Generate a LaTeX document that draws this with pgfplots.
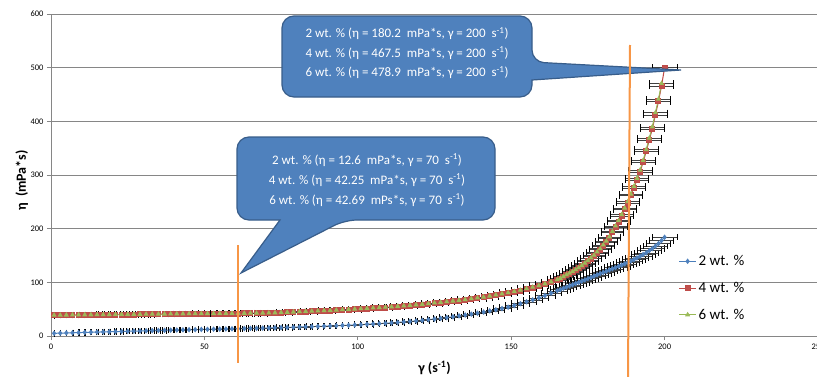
\documentclass[border=0pt]{standalone}
\usepackage{pgfplots}
\pgfplotsset{compat=1.18}
\usepackage{pgfplotstable}
\usepackage{fontspec}
\setmainfont{Carlito}
\definecolor{s2}{RGB}{74,126,187}
\definecolor{s2m}{RGB}{79,129,189}
\definecolor{s4}{RGB}{190,75,72}
\definecolor{s4m}{RGB}{192,80,77}
\definecolor{s6}{RGB}{152,185,84}
\definecolor{s6m}{RGB}{155,187,89}
\definecolor{cfill}{RGB}{79,129,189}
\definecolor{cdraw}{RGB}{56,93,138}
\definecolor{orng}{RGB}{247,150,70}
\definecolor{gridc}{RGB}{134,134,134}

\pgfplotstableread{
x a b c
1 5.0 38.5 38.9
3 5.3 38.6 39.0
5 5.7 38.7 39.1
7 6.0 38.8 39.2
9 6.3 38.9 39.3
11 6.7 39.1 39.5
13 7.0 39.2 39.6
15 7.3 39.3 39.7
17 7.6 39.4 39.8
19 7.9 39.5 39.9
21 8.2 39.7 40.1
23 8.5 39.8 40.2
25 8.8 39.9 40.3
27 9.1 40.0 40.4
29 9.4 40.1 40.5
31 9.7 40.3 40.7
33 10.0 40.4 40.8
35 10.3 40.5 40.9
37 10.6 40.6 41.0
39 10.9 40.7 41.1
41 11.1 40.9 41.3
43 11.4 41.0 41.4
45 11.7 41.1 41.5
47 11.9 41.2 41.6
49 12.2 41.3 41.7
51 12.4 41.5 41.9
53 12.7 41.5 41.9
55 12.9 41.6 42.0
57 13.1 41.7 42.1
59 13.4 41.8 42.2
61 13.6 41.9 42.3
63 13.9 42.0 42.4
65 14.2 42.1 42.5
67 14.4 42.2 42.6
69 14.7 42.3 42.7
71 15.0 42.5 42.9
73 15.3 42.9 43.3
75 15.7 43.4 43.8
77 16.0 43.8 44.2
79 16.3 44.3 44.7
81 16.7 44.8 45.2
83 17.1 45.3 45.8
85 17.5 45.7 46.2
87 17.9 46.2 46.7
89 18.3 46.8 47.3
91 18.7 47.3 47.8
93 19.2 47.9 48.4
95 19.7 48.5 49.0
97 20.1 49.1 49.6
99 20.6 49.7 50.2
101 21.1 50.3 50.8
103 21.8 51.0 51.5
105 22.4 51.7 52.2
107 23.0 52.4 52.9
109 23.7 53.1 53.6
111 24.4 53.9 54.4
113 25.3 54.8 55.3
115 26.2 55.7 56.3
117 27.1 56.6 57.2
119 28.0 57.5 58.1
121 29.1 58.5 59.1
123 30.4 59.7 60.3
125 31.6 60.9 61.5
127 32.9 62.1 62.7
129 34.3 63.3 63.9
131 35.8 64.6 65.2
133 37.5 65.9 66.6
135 39.1 67.3 68.0
137 40.8 68.8 69.5
139 42.6 70.2 70.9
141 44.6 71.9 72.6
143 46.8 73.8 74.5
145 48.9 75.7 76.5
147 51.2 77.8 78.6
149 53.7 79.9 80.7
151 56.8 82.2 83.0
153 60.3 84.6 85.4
155 63.8 87.3 88.2
157 67.3 90.1 91.0
159 71.0 93.0 93.9
161 75.2 96.3 97.3
163 79.8 100.0 101.0
165 84.3 104.0 105.0
166 86.5 106.5 107.6
167 88.8 109.5 110.6
168 91.0 113.0 114.1
169 93.3 116.0 117.2
170 95.5 119.0 120.2
171 97.8 122.5 123.7
172 100.0 126.0 127.3
173 102.3 130.0 131.3
174 104.5 134.5 135.8
175 106.8 139.0 140.4
176 109.0 144.0 145.4
177 111.5 149.0 150.5
178 114.0 155.0 156.6
179 116.3 161.0 162.6
180 118.5 168.0 169.7
181 120.8 175.0 176.8
182 123.0 183.0 184.8
183 125.3 193.0 194.9
184 127.5 203.0 205.0
185 129.8 213.0 215.1
186 132.0 224.0 226.2
187 134.5 236.0 238.4
188 137.0 248.0 250.5
189 139.8 262.0 264.6
190 142.5 276.0 278.8
191 145.5 291.0 293.9
192 148.5 306.0 309.1
193 151.8 324.0 327.2
194 155.0 344.0 347.4
195 159.0 365.0 368.7
196 163.0 386.0 389.9
197 167.5 412.0 416.1
198 172.0 437.0 441.4
199 178.0 466.0 470.7
200 184.0 500.0 nan
}\datatab

\begin{document}
\begin{tikzpicture}
\useasboundingbox (-51pt,-40pt) rectangle (766pt,336pt);
\begin{axis}[
  at={(0pt,0pt)}, anchor=south west,
  scale only axis, width=767pt, height=322pt,
  xmin=0, xmax=250, ymin=0, ymax=600,
  xtick={0,50,...,250}, ytick={0,100,...,600},
  axis x line=bottom, axis y line=left,
  axis line style={gridc, line width=0.8pt, -},
  tick align=outside, major tick length=4pt,
  tick style={gridc, line width=0.8pt},
  ymajorgrids, major grid style={gridc, line width=0.8pt},
  /pgf/number format/assume math mode=true,
  ticklabel style={font=\fontsize{8.5}{10}\selectfont},
  xlabel={\textbf{γ (s\textsuperscript{-1})}},
  ylabel={\textbf{η\, (mPa*s)}},
  label style={font=\fontsize{14}{16}\selectfont},
  xlabel style={at={(axis description cs:0.5,-0.099)}, anchor=center},
  ylabel style={at={(axis description cs:-0.038,0.484)}, anchor=center},
  legend style={draw=none, fill=none, at={(0.818,0.149)}, anchor=west,
    font=\fontsize{15}{18}\selectfont, row sep=11pt, inner sep=0pt},
  legend cell align=left,
  clip=false,
  error bars/error mark=|,
  error bars/error bar style={black!75, line width=0.5pt},
  error bars/error mark options={black, line width=0.6pt, mark size=3.2pt},
]
\addplot[s2, line width=1pt, mark=diamond*, mark size=2pt, mark options={fill=s2m, draw=s2m},
  error bars/.cd, x dir=both, x fixed relative=0.02]
  table[x=x, y=a]{\datatab};
\addlegendentry{2 wt. \%}
\addplot[s4, line width=1pt, mark=square*, mark size=2.5pt, mark options={fill=s4m, draw=s4},
  error bars/.cd, x dir=both, x fixed relative=0.02]
  table[x=x, y=b]{\datatab};
\addlegendentry{4 wt. \%}
\addplot[s6, line width=1pt, mark=triangle*, mark size=2pt, mark options={fill=s6m, draw=s6m},
  error bars/.cd, x dir=both, x fixed relative=0.02]
  table[x=x, y=c]{\datatab};
\addlegendentry{6 wt. \%}
\end{axis}
\begin{scope}[xshift=-51pt, yshift=336pt, x=1pt, y=-1pt]
  \filldraw[fill=cfill, draw=cdraw, line width=1.2pt]
    (282,56) [rounded corners=12pt] -- (282,16) -- (532,16) -- (532,62)
    [sharp corners] -- (681,70) -- (532,80)
    [rounded corners=12pt] -- (532,97) -- (282,97) -- cycle;
  \node[text=white, font=\fontsize{13}{19.5}\selectfont, align=center] at (407,53)
    {2 wt. \% (η = 180.2~ mPa*s, γ = 200~ s\textsuperscript{-1})\\
     4 wt. \% (η = 467.5~ mPa*s, γ = 200~ s\textsuperscript{-1})\\
     6 wt. \% (η = 478.9~ mPa*s, γ = 200~ s\textsuperscript{-1})};
  \filldraw[fill=cfill, draw=cdraw, line width=1.2pt]
    (237,178) [rounded corners=12pt] -- (237,137) -- (495,137) -- (495,220) -- (345,220)
    [sharp corners] -- (241,273) -- (280,220)
    [rounded corners=12pt] -- (237,220) -- cycle;
  \node[text=white, font=\fontsize{13}{20}\selectfont, align=center] at (367,180)
    {2 wt. \% (η = 12.6~ mPa*s, γ = 70~ s\textsuperscript{-1})\\
     4 wt. \% (η = 42.25~ mPa*s, γ = 70~ s\textsuperscript{-1})\\
     6 wt. \% (η = 42.69~ mPs*s, γ = 70~ s\textsuperscript{-1})};
  \draw[orng, line width=2pt] (238,245) -- (238,363);
  \draw[orng, line width=2pt] (630,45) -- (628,380);
\end{scope}
\end{tikzpicture}
\end{document}
